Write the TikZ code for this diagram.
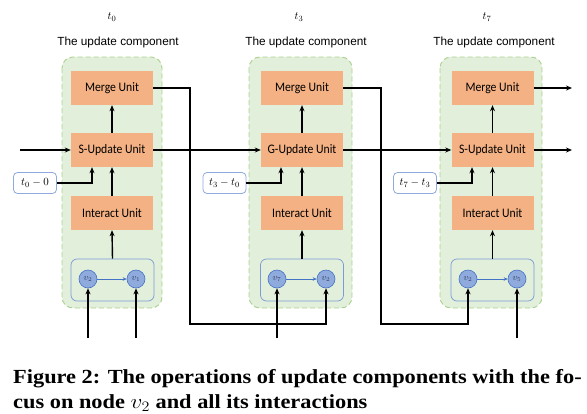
\documentclass[tikz,border=0pt]{standalone}
\usepackage{fontspec}
\usepackage{graphicx}
\setmainfont{Liberation Serif}
\newfontfamily\calib{Carlito}
\newfontfamily\arialf{Liberation Sans}
\usetikzlibrary{arrows.meta}
\definecolor{unitor}{HTML}{F4B183}
\definecolor{compfill}{HTML}{E2EFDA}
\definecolor{compline}{HTML}{A9D18E}
\definecolor{nodefill}{HTML}{8FAADC}
\definecolor{nodeline}{HTML}{4472C4}
\definecolor{innerline}{HTML}{7A9BD6}
\definecolor{vtext}{HTML}{2F3B5C}
\newcommand{\ulab}[1]{\scalebox{0.9}[1]{#1}}
\newcommand{\caplab}[1]{\scalebox{1.118}[1]{#1}}
\tikzset{
  unitbox/.style={fill=unitor, draw=none, minimum width=82pt, minimum height=34pt, inner sep=0pt, font=\calib\fontsize{13}{15}\selectfont},
  compbox/.style={fill=compfill, draw=compline, dashed, dash pattern=on 5pt off 3pt, line width=0.9pt, rounded corners=11pt},
  innerbox/.style={draw=innerline, line width=0.7pt, rounded corners=6pt},
  tbox/.style={draw=nodefill, fill=white, line width=0.8pt, rounded corners=4pt, minimum width=43pt, minimum height=21pt, inner sep=0pt, font=\fontsize{11}{13}\selectfont},
  vnode/.style={circle, fill=nodefill, draw=nodeline, line width=0.6pt, minimum size=18pt, inner sep=0pt, text=vtext, font=\fontsize{9}{10}\selectfont},
  arr/.style={line width=1.4pt, -{Stealth[length=6pt,width=5pt]}},
  varr/.style={draw=nodeline, line width=0.7pt, -{Stealth[length=4pt,width=3.5pt]}},
  ttl/.style={font=\arialf\fontsize{11.8}{13}\selectfont},
  tlab/.style={font=\fontsize{11}{13}\selectfont},
  captext/.style={anchor=base west, inner sep=0pt, font=\bfseries\fontsize{20}{20}\selectfont},
}
\begin{document}
\begin{tikzpicture}[x=1pt,y=-1pt]
\useasboundingbox (0,0) rectangle (587,413);
% component 1
\node[ttl] (ttl1) at (118,42) {The update component};
\node[tlab] (tl1) at (112,17) {$t_0$};
\draw[compbox] (62,57) rectangle (162,308);
\node[unitbox] (m1) at (112,88) {\ulab{Merge Unit}};
\node[unitbox] (u1) at (112,150) {\ulab{S-Update Unit}};
\node[unitbox] (i1) at (112,213) {\ulab{Interact Unit}};
\node[innerbox, minimum width=83pt, minimum height=42pt] (b1) at (112.5,280) {};
\node[vnode] (a1) at (88,279) {$v_2$};
\node[vnode] (c1) at (136,279) {$v_1$};
\node[tbox] (t1) at (35,183) {$t_0-0$};
% component 2
\node[ttl] (ttl2) at (306,42) {The update component};
\node[tlab] (tl2) at (299,17) {$t_3$};
\draw[compbox] (249,57) rectangle (352,308);
\node[unitbox] (m2) at (302,88) {\ulab{Merge Unit}};
\node[unitbox] (u2) at (302,150) {\ulab{G-Update Unit}};
\node[unitbox] (i2) at (302,213) {\ulab{Interact Unit}};
\node[innerbox, minimum width=83pt, minimum height=42pt] (b2) at (302,280) {};
\node[vnode] (a2) at (277,279) {$v_7$};
\node[vnode] (c2) at (326,279) {$v_2$};
\node[tbox] (t2) at (224.5,183) {$t_3-t_0$};
% component 3
\node[ttl] (ttl3) at (494,42) {The update component};
\node[tlab] (tl3) at (487,17) {$t_7$};
\draw[compbox] (440,57) rectangle (542,308);
\node[unitbox] (m3) at (492.5,88) {\ulab{Merge Unit}};
\node[unitbox] (u3) at (492.5,150) {\ulab{S-Update Unit}};
\node[unitbox] (i3) at (492.5,213) {\ulab{Interact Unit}};
\node[innerbox, minimum width=83pt, minimum height=42pt] (b3) at (492.5,280) {};
\node[vnode] (a3) at (468,279) {$v_2$};
\node[vnode] (c3) at (517,279) {$v_5$};
\node[tbox] (t3) at (415,183) {$t_7-t_3$};
% free ends
\coordinate (in1) at (20,150);
\coordinate (bot1a) at (88,338);
\coordinate (bot1c) at (136,338);
\coordinate (bot2a) at (277,338);
\coordinate (bot3c) at (517,338);
\coordinate (out3m) at (572,88);
\coordinate (out3u) at (572,150);
% inner arrows
\foreach \k in {1,2,3}{
  \draw[varr] (a\k) -- (c\k);
  \draw[arr] (b\k.north) -- (i\k.south);
  \draw[arr] (i\k.north) -- (u\k.south);
  \draw[arr] (u\k.north) -- (m\k.south);
}
\draw[arr] (t1.east) -| ([xshift=-20pt]u1.south);
\draw[arr] (t2.east) -| ([xshift=-21pt]u2.south);
\draw[arr] (t3.east) -| ([xshift=-20.5pt]u3.south);
% inputs
\draw[arr] (in1) -- (u1.west);
\draw[arr] (bot1a) -- (a1.south);
\draw[arr] (bot1c) -- (c1.south);
\draw[arr] (bot2a) -- (a2.south);
\draw[arr] (bot3c) -- (c3.south);
% between components
\draw[arr] (u1.east) -- (u2.west);
\draw[arr] (u2.east) -- (u3.west);
\draw[arr] (m1.east) -- (190,88) -- (190,324) -| (c2.south);
\draw[arr] (m2.east) -- (381,88) -- (381,324) -| (a3.south);
\draw[arr] (m3.east) -- (out3m);
\draw[arr] (u3.east) -- (out3u);
% caption
\node[captext] (cap1) at (13,383) {\caplab{Figure 2: The operations of update components with the fo-}};
\node[captext] (cap2) at (13,408) {\caplab{cus on node $v_2$ and all its interactions}};
\end{tikzpicture}
\end{document}
